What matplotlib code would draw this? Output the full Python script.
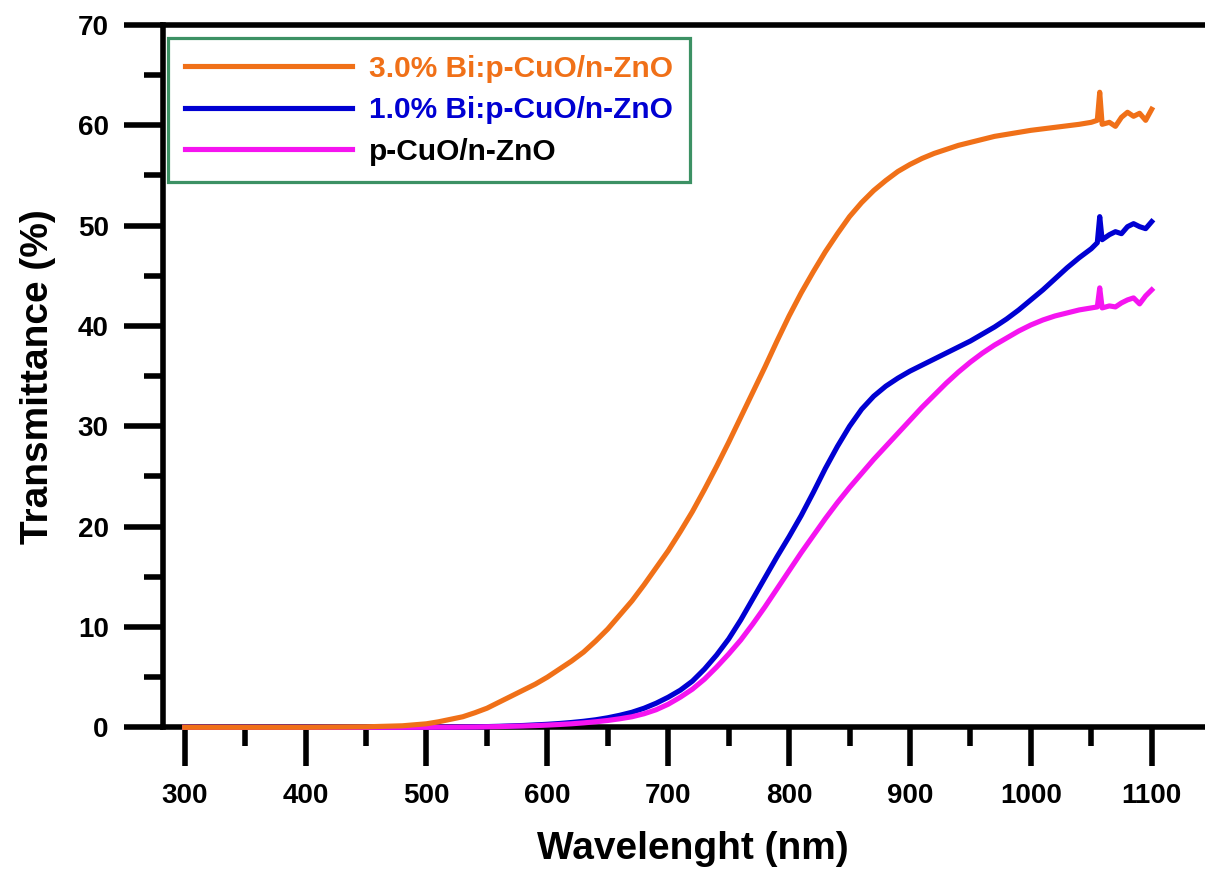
import matplotlib
matplotlib.use('Agg')
import matplotlib.pyplot as plt
from matplotlib.ticker import MultipleLocator

plt.rcParams['font.family'] = ['Liberation Sans', 'DejaVu Sans']
plt.rcParams['font.weight'] = 'bold'

# transmittance spectra (nm, %)
wavelength = ([300, 350, 400, 450, 480, 490] + list(range(500, 1051, 10))
              + [1055, 1057, 1059, 1065, 1070, 1075, 1080, 1085, 1090, 1095, 1100])

t_bi3 = [0.0, 0.0, 0.0, 0.05, 0.15, 0.25,
         0.35, 0.55, 0.8, 1.05, 1.45, 1.9, 2.5, 3.1, 3.7, 4.3,
         5.0, 5.8, 6.6, 7.5, 8.6, 9.8, 11.2, 12.6, 14.2, 15.9,
         17.6, 19.5, 21.5, 23.7, 26.0, 28.4, 30.9, 33.4, 35.9, 38.5,
         41.0, 43.3, 45.4, 47.4, 49.2, 50.9, 52.3, 53.5, 54.5, 55.4,
         56.1, 56.7, 57.2, 57.6, 58.0, 58.3, 58.6, 58.9, 59.1, 59.3,
         59.5, 59.65, 59.8, 59.95, 60.1, 60.3,
         60.5, 63.3, 60.1, 60.3, 59.9, 60.8, 61.3, 60.9, 61.2, 60.5, 61.6]

t_bi1 = [0.0, 0.0, 0.0, 0.0, 0.0, 0.0,
         0.0, 0.01, 0.02, 0.03, 0.05, 0.07, 0.1, 0.14, 0.18, 0.24,
         0.3, 0.38, 0.48, 0.6, 0.75, 0.95, 1.2, 1.5, 1.9, 2.4,
         3.0, 3.7, 4.6, 5.8, 7.2, 8.8, 10.7, 12.8, 14.9, 17.0,
         19.0, 21.1, 23.4, 25.8, 28.0, 30.0, 31.7, 33.0, 34.0, 34.8,
         35.5, 36.1, 36.7, 37.3, 37.9, 38.5, 39.2, 39.9, 40.7, 41.6,
         42.6, 43.6, 44.7, 45.8, 46.8, 47.7,
         48.3, 50.9, 48.6, 49.1, 49.4, 49.2, 49.9, 50.2, 49.9, 49.7, 50.4]

t_pure = [0.0, 0.0, 0.0, 0.0, 0.0, 0.0,
          0.0, 0.01, 0.01, 0.02, 0.03, 0.05, 0.07, 0.1, 0.13, 0.17,
          0.22, 0.28, 0.35, 0.44, 0.55, 0.68, 0.85, 1.05, 1.35, 1.75,
          2.3, 3.0, 3.8, 4.8, 6.0, 7.3, 8.7, 10.3, 12.0, 13.8,
          15.6, 17.4, 19.1, 20.8, 22.4, 23.9, 25.3, 26.7, 28.0, 29.3,
          30.6, 31.9, 33.1, 34.3, 35.4, 36.4, 37.3, 38.1, 38.8, 39.5,
          40.1, 40.6, 41.0, 41.3, 41.6, 41.8,
          41.9, 43.8, 41.8, 42.0, 41.9, 42.3, 42.6, 42.8, 42.2, 43.0, 43.6]

labels = ['3.0% Bi:p-CuO/n-ZnO', '1.0% Bi:p-CuO/n-ZnO', 'p-CuO/n-ZnO']
line_colors = ['#F07018', '#0000D2', '#F514F0']
text_colors = ['#F07018', '#0000D2', 'black']

fig = plt.figure(figsize=(12.05, 8.69), dpi=100)
ax = fig.add_axes([163 / 1205, 1 - 727.3 / 869, (1223 - 163) / 1205, (727.3 - 25) / 869])

lw = 3.7
l_bi1, = ax.plot(wavelength, t_bi1, color=line_colors[1], lw=lw, clip_on=False, zorder=3)
l_pure, = ax.plot(wavelength, t_pure, color=line_colors[2], lw=lw, clip_on=False, zorder=3)
l_bi3, = ax.plot(wavelength, t_bi3, color=line_colors[0], lw=lw, clip_on=False, zorder=3)

ax.set_xlim(282, 1159)
ax.set_ylim(0, 70)
ax.xaxis.set_major_locator(MultipleLocator(100))
ax.xaxis.set_minor_locator(MultipleLocator(50))
ax.yaxis.set_major_locator(MultipleLocator(10))
ax.yaxis.set_minor_locator(MultipleLocator(5))

for side in ['left', 'bottom', 'top']:
    ax.spines[side].set_linewidth(4)
ax.spines['right'].set_visible(False)

ax.tick_params(which='major', direction='out', length=28, width=4, labelsize=20)
ax.tick_params(which='minor', direction='out', length=14, width=4)
ax.tick_params(axis='x', which='major', pad=12)
ax.tick_params(axis='y', which='major', pad=11)
ax.tick_params(top=False, right=False, which='both')

ax.set_xlabel('Wavelenght (nm)', fontsize=28, fontweight='bold', labelpad=16)
ax.set_ylabel('Transmittance (%)', fontsize=28, fontweight='bold', labelpad=16)

leg = ax.legend([l_bi3, l_bi1, l_pure], labels, loc='upper left',
                bbox_to_anchor=(0.005, 0.9815), borderaxespad=0,
                fontsize=21.5, handlelength=5.6, handletextpad=0.56,
                labelspacing=0.45, borderpad=0.56, fancybox=False,
                framealpha=1, edgecolor='#3C9164')
leg.get_frame().set_linewidth(2.3)
for txt, c in zip(leg.get_texts(), text_colors):
    txt.set_color(c)
    txt.set_fontweight('bold')

fig.savefig('out.png', dpi=100)
